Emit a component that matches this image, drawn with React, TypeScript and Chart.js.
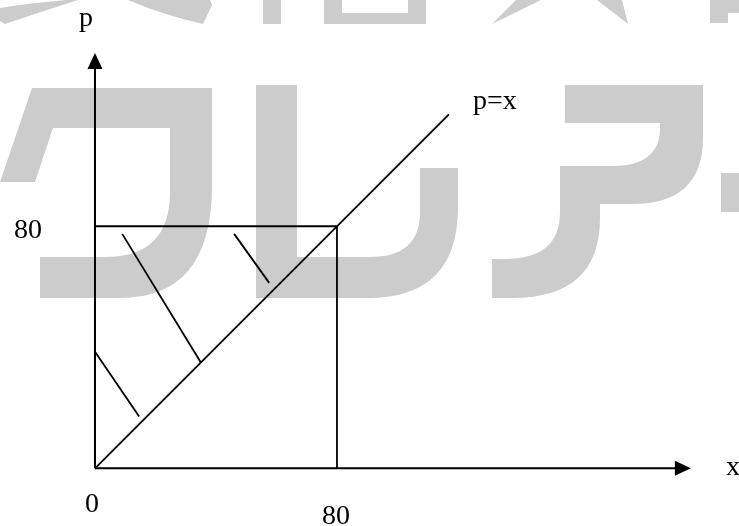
import React, { useEffect, useRef } from "react";
import { Chart, registerables } from "chart.js";

Chart.register(...registerables);

// ---- data (in diagram units) ----
const diagonalX = [0, 117];
const diagonalP = [0, 117];
const squareTopX = [0, 80];
const squareTopP = [80, 80];
const squareRightX = [80, 80];
const squareRightP = [80, 0];
const hatch1X = [9, 35];
const hatch1P = [77.5, 35];
const hatch2X = [46, 57.6];
const hatch2P = [77.5, 61.3];
const hatch3X = [0, 14.6];
const hatch3P = [38.5, 17.1];
const xAxisEnd = 197;
const pAxisEnd = 137.3;
const xTickValues = [0, 80];
const xTickLabels = ["0", "80"];
const pTickValues = [80];
const pTickLabels = ["80"];
const xAxisTitle = "x";
const pAxisTitle = "p";
const diagonalLabel = "p=x";

const X_MIN = -31.4;
const X_MAX = 212.9;
const P_MIN = -19.07;
const P_MAX = 154.8;

function seg(xs: number[], ps: number[], width: number) {
  return {
    data: xs.map((x, i) => ({ x, y: ps[i] })),
    showLine: true,
    borderColor: "#000",
    borderWidth: width,
    pointRadius: 0,
    fill: false,
  };
}

// Background watermark (decorative, page pixels)
function drawWatermark(ctx: CanvasRenderingContext2D) {
  ctx.save();
  ctx.fillStyle = "#cccccc";
  const poly = (pts: number[][]) => {
    ctx.beginPath();
    ctx.moveTo(pts[0][0], pts[0][1]);
    for (let i = 1; i < pts.length; i++) ctx.lineTo(pts[i][0], pts[i][1]);
    ctx.closePath();
    ctx.fill();
  };
  // --- top row (bottom slices of cut-off glyphs) ---
  ctx.beginPath();
  ctx.moveTo(0, 8);
  ctx.quadraticCurveTo(30, 3, 66, 0);
  ctx.lineTo(78, 0);
  ctx.quadraticCurveTo(40, 12, 5, 24);
  ctx.lineTo(0, 21);
  ctx.closePath();
  ctx.fill();
  ctx.beginPath();
  ctx.moveTo(128, 0);
  ctx.lineTo(210, 0);
  ctx.lineTo(212, 5);
  ctx.lineTo(203, 24);
  ctx.quadraticCurveTo(160, 14, 128, 0);
  ctx.closePath();
  ctx.fill();
  ctx.fillRect(263, 0, 18, 24);
  ctx.fillRect(324, 0, 18, 24);
  ctx.fillRect(408, 0, 18, 24);
  ctx.fillRect(342, 13, 66, 11);
  poly([[492, 24], [516, 0], [541, 0]]);
  poly([[597, 0], [622, 0], [628, 24]]);
  ctx.fillRect(710, 0, 18, 23);
  ctx.fillRect(728, 0, 11, 13);

  // --- main row ---
  // ク
  ctx.beginPath();
  ctx.moveTo(32, 88);
  ctx.lineTo(212, 88);
  ctx.lineTo(212, 190);
  ctx.quadraticCurveTo(210, 298, 120, 298);
  ctx.lineTo(40, 298);
  ctx.lineTo(40, 257);
  ctx.lineTo(105, 257);
  ctx.quadraticCurveTo(170, 257, 170, 192);
  ctx.lineTo(170, 128);
  ctx.lineTo(53, 128);
  ctx.lineTo(35, 182);
  ctx.lineTo(0, 182);
  ctx.lineTo(0, 182);
  ctx.closePath();
  ctx.fill();
  // レ
  ctx.beginPath();
  ctx.moveTo(256, 85);
  ctx.lineTo(297, 85);
  ctx.lineTo(297, 257);
  ctx.lineTo(370, 257);
  ctx.quadraticCurveTo(420, 257, 420, 212);
  ctx.lineTo(420, 168);
  ctx.lineTo(458, 168);
  ctx.lineTo(458, 207);
  ctx.quadraticCurveTo(458, 298, 368, 298);
  ctx.lineTo(256, 298);
  ctx.closePath();
  ctx.fill();
  // ア
  ctx.beginPath();
  ctx.moveTo(565, 85);
  ctx.lineTo(703, 85);
  ctx.lineTo(703, 138);
  ctx.quadraticCurveTo(703, 204, 632, 204);
  ctx.lineTo(600, 204);
  ctx.lineTo(600, 218);
  ctx.quadraticCurveTo(600, 298, 512, 298);
  ctx.lineTo(492, 298);
  ctx.lineTo(492, 259);
  ctx.lineTo(505, 259);
  ctx.quadraticCurveTo(560, 259, 560, 212);
  ctx.lineTo(560, 166);
  ctx.lineTo(612, 166);
  ctx.quadraticCurveTo(660, 166, 660, 128);
  ctx.lineTo(660, 123);
  ctx.lineTo(565, 123);
  ctx.closePath();
  ctx.fill();
  // ー
  ctx.fillRect(721, 173, 18, 39);
  ctx.restore();
}

const watermarkPlugin = {
  id: "watermark",
  beforeDatasetsDraw(chart: any) {
    drawWatermark(chart.ctx);
  },
};

const decorPlugin = {
  id: "decor",
  afterDatasetsDraw(chart: any) {
    const ctx = chart.ctx;
    const xs = chart.scales.x;
    const ys = chart.scales.y;
    const X = (v: number) => xs.getPixelForValue(v);
    const Y = (v: number) => ys.getPixelForValue(v);
    ctx.save();
    ctx.strokeStyle = "#000";
    ctx.fillStyle = "#000";
    ctx.lineWidth = 2;
    // axes
    ctx.beginPath();
    ctx.moveTo(X(0), Y(0));
    ctx.lineTo(X(xAxisEnd) - 14, Y(0));
    ctx.moveTo(X(0), Y(0));
    ctx.lineTo(X(0), Y(pAxisEnd) + 14);
    ctx.stroke();
    // arrowheads
    ctx.beginPath();
    ctx.moveTo(X(xAxisEnd), Y(0));
    ctx.lineTo(X(xAxisEnd) - 16, Y(0) - 7.5);
    ctx.lineTo(X(xAxisEnd) - 16, Y(0) + 7.5);
    ctx.closePath();
    ctx.fill();
    ctx.beginPath();
    ctx.moveTo(X(0), Y(pAxisEnd));
    ctx.lineTo(X(0) - 7.5, Y(pAxisEnd) + 16);
    ctx.lineTo(X(0) + 7.5, Y(pAxisEnd) + 16);
    ctx.closePath();
    ctx.fill();

    // texts
    ctx.font = "28px 'Liberation Serif'";
    ctx.textBaseline = "alphabetic";
    ctx.textAlign = "center";
    xTickValues.forEach((v, i) => {
      const dy = v === 0 ? 44 : 56;
      ctx.fillText(xTickLabels[i], X(v) - (v === 0 ? 3 : 1), Y(0) + dy);
    });
    ctx.textAlign = "right";
    pTickValues.forEach((v, i) => {
      ctx.fillText(pTickLabels[i], X(0) - 53, Y(v) + 12);
    });
    ctx.textAlign = "left";
    ctx.fillText(xAxisTitle, X(xAxisEnd) + 35, Y(0) + 7);
    ctx.textAlign = "center";
    ctx.fillText(pAxisTitle, X(0) - 9, 26);
    ctx.textAlign = "left";
    ctx.fillText(diagonalLabel, X(diagonalX[1]) + 24, Y(diagonalP[1]) - 5);
    ctx.restore();
  },
};

export default function App() {
  const ref = useRef<HTMLCanvasElement | null>(null);
  useEffect(() => {
    document.body.style.margin = "0";
    const canvas = ref.current!;
    const chart = new Chart(canvas, {
      type: "scatter",
      data: {
        datasets: [
          seg(diagonalX, diagonalP, 1.8),
          seg(squareTopX, squareTopP, 2),
          seg(squareRightX, squareRightP, 1.8),
          seg(hatch1X, hatch1P, 1.8),
          seg(hatch2X, hatch2P, 1.8),
          seg(hatch3X, hatch3P, 1.8),
        ] as any,
      },
      options: {
        animation: false,
        responsive: false,
        maintainAspectRatio: false,
        layout: { padding: 0 },
        plugins: { legend: { display: false }, tooltip: { enabled: false } },
        scales: {
          x: { type: "linear", min: X_MIN, max: X_MAX, display: false },
          y: { type: "linear", min: P_MIN, max: P_MAX, display: false },
        },
      },
      plugins: [watermarkPlugin, decorPlugin],
    });
    return () => chart.destroy();
  }, []);
  return (
    <div style={{ width: 739, height: 526, background: "#fff" }}>
      <canvas ref={ref} width={739} height={526} style={{ display: "block" }} />
    </div>
  );
}
